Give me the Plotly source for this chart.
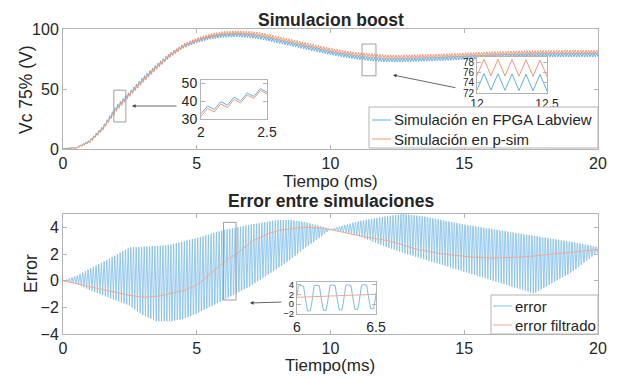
import numpy as np
import plotly.graph_objects as go

# ---------------- data ----------------
# Top plot: mean capacitor voltage (V) at key times (ms)
t_key = [0, 0.5, 1, 1.5, 2, 2.5, 3, 3.5, 4, 4.5, 5, 5.5, 6, 6.5, 7, 7.5, 8, 8.5, 9, 9.5,
         10, 10.5, 11, 11.5, 12, 12.5, 13, 14, 15, 16, 17, 18, 19, 20]
vc_psim = [0, 1, 6, 17, 33, 45.5, 57, 68, 78, 86, 91, 94.5, 96.5, 97, 96.5, 95, 92.5, 90, 87.5, 85,
           82.5, 80.5, 79, 78, 77, 76.8, 77, 77.6, 78.5, 79.5, 80.2, 80.6, 80.8, 80.8]
vc_fpga = [0, 1, 6.5, 18, 34.5, 46.5, 58.5, 69, 78.5, 85.5, 90, 93, 94.5, 95, 94.3, 92.5, 90, 87.5, 85, 82.5,
           80, 78, 76.3, 75, 74.2, 74, 74.3, 75, 76, 77, 77.7, 78.1, 78.3, 78.4]
ripple_t = [0, 1, 2, 20]
ripple_pp = [0, 2.0, 3.2, 3.2]          # peak-to-peak switching ripple (V)
period_ms = 0.1                          # switching period

# Bottom plot: error envelope and filtered error
err_t = [0, 0.5, 1, 1.5, 2, 2.4, 2.5, 3, 3.5, 4, 4.5, 5, 6, 7, 8, 8.5, 9, 9.5, 10,
         11, 12, 12.7, 13.5, 15, 17.6, 19, 20]
err_upper = [0, 0.35, 0.9, 1.4, 1.95, 2.4, 2.5, 2.55, 2.6, 2.7, 2.95, 3.2, 3.8, 4.2, 4.55, 4.55, 4.4, 4.15, 3.85,
             4.45, 4.8, 5.0, 4.8, 4.2, 3.35, 2.9, 2.5]
err_lower = [0, -0.25, -0.7, -1.1, -1.5, -1.8, -1.9, -2.6, -3.05, -3.05, -2.85, -2.45, -1.45, -0.4, 0.9, 1.6, 2.4, 3.1, 3.85,
             3.4, 2.6, 2.1, 1.6, 0.67, -0.95, 0.63, 2.15]
filt_t = [0, 1, 2, 3, 3.5, 4, 4.5, 5, 5.5, 6, 6.5, 7, 7.5, 8, 8.5, 9, 9.5, 10, 10.5, 11, 12, 13, 14, 15, 16, 17, 18, 19, 20]
err_filt = [0, -0.45, -0.95, -1.25, -1.2, -1.0, -0.75, -0.35, 0.45, 1.4, 2.0, 2.9, 3.4, 3.75, 3.9, 4.0, 4.0, 3.85,
            3.6, 3.35, 3.1, 2.45, 2.05, 1.8, 1.7, 1.75, 1.9, 2.1, 2.35]

labels = ["Simulación en FPGA Labview", "Simulación en p-sim", "error", "error filtrado"]

# ---------------- build waveforms ----------------
t = np.linspace(0, 20, 200 * 12 + 1)
phase = t / period_ms
tri = 2 * np.abs(2 * (phase - np.floor(phase + 0.5))) - 1
rip = np.interp(t, ripple_t, ripple_pp) / 2
y_psim = np.interp(t, t_key, vc_psim) + rip * tri
y_fpga = np.interp(t, t_key, vc_fpga) + rip * tri

up = np.interp(t, err_t, err_upper)
lo = np.interp(t, err_t, err_lower)
shape = np.clip(1.5 * np.sin(2 * np.pi * phase) + 0.2, -1, 1)
y_err = (up + lo) / 2 + (up - lo) / 2 * shape
y_filt = np.interp(t, filt_t, err_filt)

BLUE = "#62AEE3"
BLUE_E = "#7DBCE8"
ORANGE = "#EE9877"
ORANGE_F = "#F2AA92"
AX = "#b4b4b4"
TXT = "#262626"
FONT = "Liberation Sans"
OFF = 8                       # page body margin (px)
W, H = 618 - OFF, 379 - OFF


def px(x):
    return (x - OFF) / W


def py(y):
    return 1 - (y - OFF) / H


fig = go.Figure()


def win(a, b):
    return (t >= a - 0.02) & (t <= b + 0.02)


# main top
fig.add_trace(go.Scatter(x=t, y=y_fpga, mode="lines", line=dict(color=BLUE, width=1),
                         name=labels[0], xaxis="x", yaxis="y"))
fig.add_trace(go.Scatter(x=t, y=y_psim, mode="lines", line=dict(color=ORANGE, width=1),
                         name=labels[1], xaxis="x", yaxis="y"))
# main bottom
fig.add_trace(go.Scatter(x=t, y=y_err, mode="lines", line=dict(color=BLUE_E, width=0.8),
                         name=labels[2], xaxis="x2", yaxis="y2"))
fig.add_trace(go.Scatter(x=t, y=y_filt, mode="lines", line=dict(color=ORANGE_F, width=1),
                         name=labels[3], xaxis="x2", yaxis="y2"))
# insets
m = win(2, 2.5)
fig.add_trace(go.Scatter(x=t[m], y=y_fpga[m], mode="lines", line=dict(color=BLUE, width=1),
                         name=labels[0], xaxis="x3", yaxis="y3"))
fig.add_trace(go.Scatter(x=t[m], y=y_psim[m], mode="lines", line=dict(color=ORANGE, width=1),
                         name=labels[1], xaxis="x3", yaxis="y3"))
m = win(12, 12.5)
fig.add_trace(go.Scatter(x=t[m], y=y_fpga[m], mode="lines", line=dict(color=BLUE, width=1),
                         name=labels[0], xaxis="x4", yaxis="y4"))
fig.add_trace(go.Scatter(x=t[m], y=y_psim[m], mode="lines", line=dict(color=ORANGE, width=1),
                         name=labels[1], xaxis="x4", yaxis="y4"))
m = win(6, 6.5)
fig.add_trace(go.Scatter(x=t[m], y=y_err[m], mode="lines", line=dict(color=BLUE_E, width=1),
                         name=labels[2], xaxis="x5", yaxis="y5"))
fig.add_trace(go.Scatter(x=t[m], y=y_filt[m], mode="lines", line=dict(color=ORANGE_F, width=1),
                         name=labels[3], xaxis="x5", yaxis="y5"))


def axstyle(dom, rng, ticks, size=16, anchor=None):
    d = dict(domain=dom, range=rng, tickvals=ticks, showgrid=False, zeroline=False,
             automargin=False,
             showline=True, linecolor=AX, linewidth=1, mirror="ticks", ticks="inside",
             ticklen=4, tickcolor=AX, tickfont=dict(size=size, color=TXT, family=FONT))
    if anchor:
        d["anchor"] = anchor
    return d


xd = [px(63), px(598)]
fig.update_layout(
    width=W, height=H, margin=dict(l=0, r=0, t=0, b=0, autoexpand=False),
    paper_bgcolor="white", plot_bgcolor="white", showlegend=False,
    font=dict(family=FONT, color=TXT),
    xaxis=axstyle(xd, [0, 20], [0, 5, 10, 15, 20], anchor="y"),
    yaxis=axstyle([py(149), py(29)], [0, 100], [0, 50, 100], anchor="x"),
    xaxis2=axstyle(xd, [0, 20], [0, 5, 10, 15, 20], anchor="y2"),
    yaxis2=axstyle([py(334), py(214)], [-4, 5], [-4, -2, 0, 2, 4], anchor="x2"),
    xaxis3=axstyle([px(201), px(267)], [2, 2.5], [2, 2.5], 14, anchor="y3"),
    yaxis3=axstyle([py(119), py(80)], [30, 51.7], [30, 40, 50], 14, anchor="x3"),
    xaxis4=axstyle([px(477), px(547)], [12, 12.5], [12, 12.5], 12, anchor="y4"),
    yaxis4=axstyle([py(93), py(57)], [72, 79], [72, 74, 76, 78], 10, anchor="x4"),
    xaxis5=axstyle([px(297), px(376)], [6, 6.5], [6, 6.5], 14, anchor="y5"),
    yaxis5=axstyle([py(314), py(282)], [-2, 4.5], [-2, 0, 2, 4], 9.5, anchor="x5"),
)

# zoom rectangles on main axes
fig.add_shape(type="rect", xref="x", yref="y", x0=1.9, x1=2.35, y0=22.5, y1=49,
              line=dict(color="#a0a0a0", width=1))
fig.add_shape(type="rect", xref="x", yref="y", x0=11.18, x1=11.7, y0=61, y1=87.5,
              line=dict(color="#a0a0a0", width=1))
fig.add_shape(type="rect", xref="x2", yref="y2", x0=6.0, x1=6.47, y0=-1.45, y1=4.37,
              line=dict(color="#a0a0a0", width=1))

ann = []
# legends (box, line samples, labels)
legends = [
    ((369, 107, 598, 148), [(labels[0], BLUE, 120), (labels[1], ORANGE, 139)], 372, 392),
    ((491, 295, 598, 334), [(labels[2], BLUE_E, 306), (labels[3], ORANGE_F, 325)], 493, 513),
]
for (x0, y0, x1, y1), items, lx, tx in legends:
    fig.add_shape(type="rect", xref="paper", yref="paper", x0=px(x0), x1=px(x1), y0=py(y1), y1=py(y0),
                  fillcolor="white", line=dict(color=AX, width=1), layer="above")
    for name, col, yy in items:
        fig.add_shape(type="line", xref="paper", yref="paper", x0=px(lx), x1=px(tx - 1),
                      y0=py(yy), y1=py(yy), line=dict(color=col, width=1), layer="above")
        ann.append(dict(x=px(tx), y=py(yy), xref="paper", yref="paper", text=name, showarrow=False,
                        xanchor="left", yanchor="middle", font=dict(size=15, color=TXT, family=FONT)))

# arrows (head at x,y ; tail offset ax, ay in pixels)
for hx, hy, ax, ay in [(132, 106, 46, 0), (393, 75, 64, 13), (250, 303, 33, -1)]:
    ann.append(dict(x=px(hx), y=py(hy), xref="paper", yref="paper", text="", showarrow=True,
                    ax=ax, ay=ay, arrowhead=2, arrowsize=0.9, arrowwidth=0.8, arrowcolor="#404040"))
# titles and axis labels
txts = [
    dict(x=px(331), y=1, yanchor="top", text="<b>Simulacion boost</b>", font=dict(size=17.5)),
    dict(x=px(331), y=py(201), text="<b>Error entre simulaciones</b>", font=dict(size=17.5)),
    dict(x=px(330), y=py(181), text="Tiempo (ms)", font=dict(size=17)),
    dict(x=px(330), y=py(365), text="Tiempo(ms)", font=dict(size=17)),
    dict(x=px(26), y=py(90), text="Vc 75% (V)", textangle=-90, font=dict(size=17.5)),
    dict(x=px(31), y=py(274), text="Error", textangle=-90, font=dict(size=17.5)),
]
for a in txts:
    a.setdefault("yanchor", "middle")
    a.update(xref="paper", yref="paper", showarrow=False, xanchor="center")
    a["font"].update(color=TXT, family=FONT)
fig.update_layout(annotations=ann + txts)

fig.write_html("out.html")
